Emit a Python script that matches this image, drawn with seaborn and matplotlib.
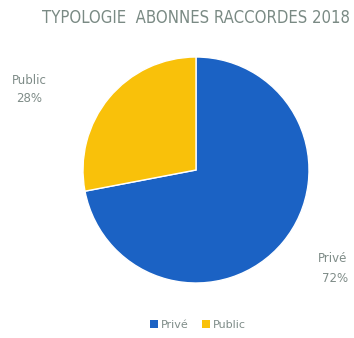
import matplotlib
matplotlib.use("Agg")
import matplotlib.pyplot as plt
import seaborn as sns
from matplotlib.patches import Patch

categories = ["Privé", "Public"]
values = [72, 28]
pct_labels = ["72%", "28%"]
title = "TYPOLOGIE  ABONNES RACCORDES 2018"

sns.set_theme(style="white")
plt.rcParams['font.family'] = ['DejaVu Sans']

colors = ["#1b62c4", "#f9c10a"]
text_color = "#7f8c88"

fig = plt.figure(figsize=(3.54, 3.38), dpi=100)
cx, cy, r = 196, 170, 113
W, H = 354, 338
ax = fig.add_axes([(cx - r) / W, (H - cy - r) / H, 2 * r / W, 2 * r / H])
ax.pie(values, colors=colors, startangle=90, counterclock=False, radius=1,
       wedgeprops=dict(edgecolor="white", linewidth=1))
ax.set_xlim(-1, 1)
ax.set_ylim(-1, 1)
ax.set_aspect("equal")
ax.axis("off")

def px(x):
    return (x - cx) / r

def py(y):
    return (cy - y) / r

ax.text(px(29), py(80), categories[1], ha="center", va="center", fontsize=8.5,
        color=text_color, clip_on=False)
ax.text(px(29), py(98), pct_labels[1], ha="center", va="center", fontsize=8.5,
        color=text_color, clip_on=False)
ax.text(px(333), py(259), categories[0], ha="center", va="center", fontsize=8.5,
        color=text_color, clip_on=False)
ax.text(px(335), py(278), pct_labels[0], ha="center", va="center", fontsize=8.5,
        color=text_color, clip_on=False)

fig.text(196 / W, 1 - 18 / H, title, ha="center", va="center", fontsize=12,
         color="#7a8a84", fontstretch="condensed")

handles = [Patch(facecolor=c, edgecolor="none") for c in colors]
fig.legend(handles, categories, loc="center", bbox_to_anchor=(198 / W, 1 - 325 / H),
           ncol=2, frameon=False, fontsize=8, handlelength=0.7, handleheight=0.7,
           handletextpad=0.3, columnspacing=1.2, labelcolor=text_color)

fig.savefig("out.png", dpi=100, facecolor="white")
